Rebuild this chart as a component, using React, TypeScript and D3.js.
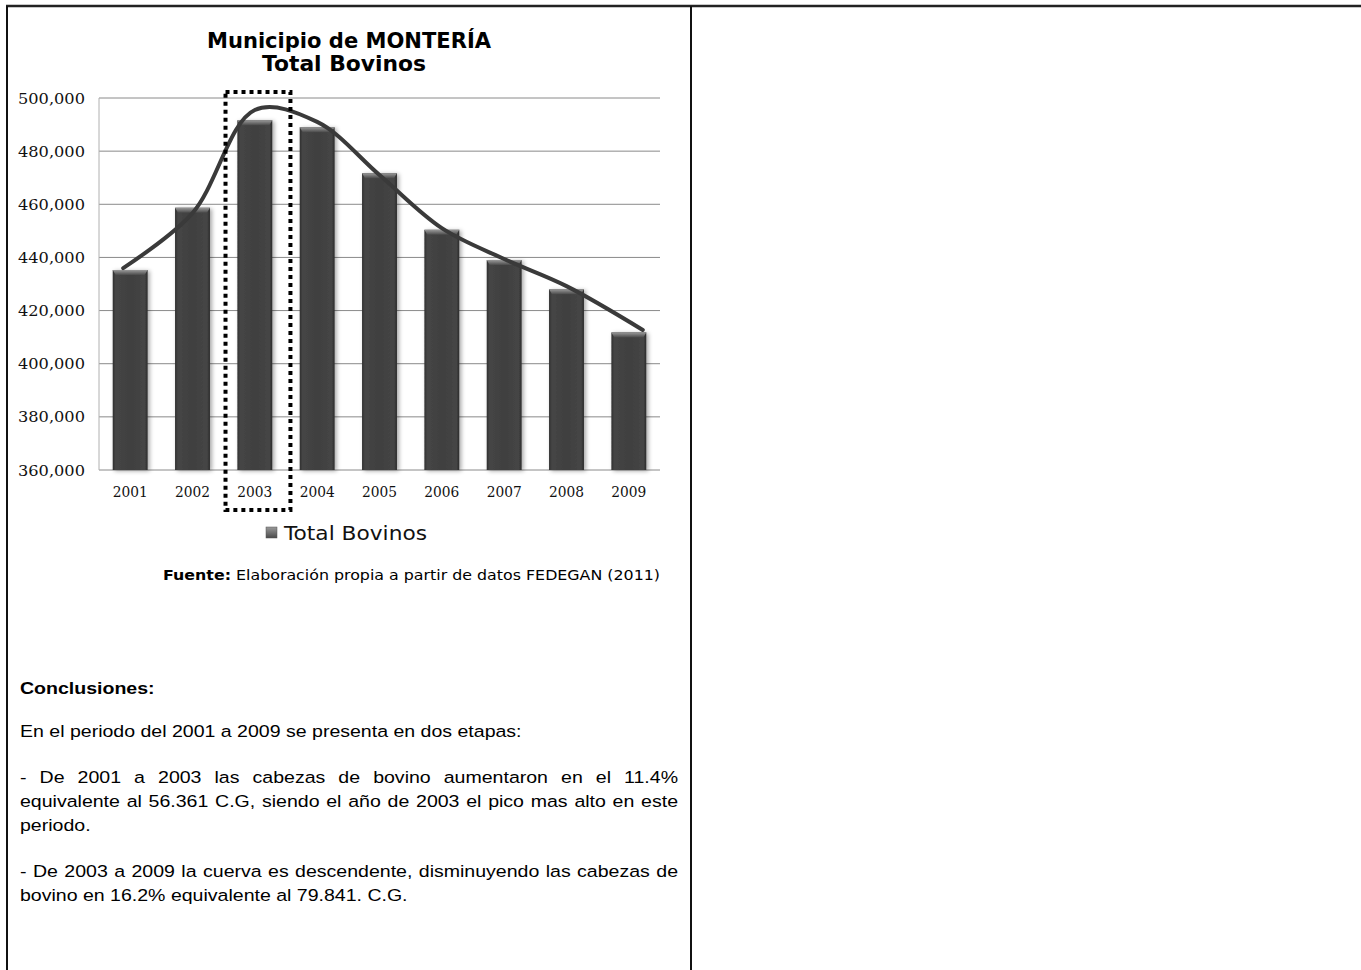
import React, { useEffect, useRef } from "react";
import * as d3 from "d3";

const years = ["2001", "2002", "2003", "2004", "2005", "2006", "2007", "2008", "2009"];
const totalBovinos = [435267, 458700, 491628, 489000, 471700, 450400, 439000, 428000, 411787];
const curveValues = [436000, 456700, 495500, 491000, 471000, 451000, 439400, 429200, 412700];
const yTicks = [360000, 380000, 400000, 420000, 440000, 460000, 480000, 500000];
const titleLines = ["Municipio de MONTERÍA", "Total Bovinos"];
const legendLabel = "Total Bovinos";
const highlightYear = "2003";
const sourceBold = "Fuente:";
const sourceText = " Elaboración propia a partir de datos FEDEGAN (2011)";
const conclusionsTitle = "Conclusiones:";
const paragraphLines = [
  { text: "En el periodo del 2001 a 2009 se presenta en dos etapas:", justify: false },
  { text: "- De 2001 a 2003 las cabezas de bovino aumentaron en el 11.4%", justify: true },
  { text: "equivalente al 56.361 C.G, siendo el año de 2003 el pico mas alto en este", justify: true },
  { text: "periodo.", justify: false },
  { text: "- De 2003 a 2009 la cuerva es descendente, disminuyendo las cabezas de", justify: true },
  { text: "bovino en 16.2% equivalente al 79.841. C.G.", justify: false },
];
const lineYs = [737, 783, 807, 831, 877, 901];

const W = 1361;
const H = 970;
const SX = 1.15;
const TEXT_W = 658;

export default function App() {
  const parRef = useRef<SVGGElement | null>(null);

  const x = d3.scaleBand<string>().domain(years).range([99, 660]).paddingInner(0.44).paddingOuter(0.22);
  const y = d3.scaleLinear().domain([360000, 500000]).range([470, 98]);
  const bw = x.bandwidth();
  const fmt = d3.format(",");

  const pts: [number, number][] = years.map((yr, i) => {
    let px = (x(yr) as number) + bw / 2;
    if (i === 0) px = (x(yr) as number) + bw * 0.3;
    if (i === years.length - 1) px = (x(yr) as number) + bw * 0.9;
    return [px, y(curveValues[i])];
  });
  const lineGen = d3.line().curve(d3.curveCatmullRom.alpha(0.5));

  useEffect(() => {
    if (!parRef.current) return;
    d3.select(parRef.current)
      .selectAll<SVGTextElement, unknown>("text.justify")
      .each(function () {
        const el = this;
        el.setAttribute("word-spacing", "0");
        const natural = el.getComputedTextLength();
        const txt = el.textContent || "";
        const spaces = (txt.match(/ /g) || []).length;
        const target = TEXT_W / SX;
        if (spaces > 0) el.setAttribute("word-spacing", String((target - natural) / spaces));
      });
  }, []);

  const hx0 = (x(highlightYear) as number) - bw * 0.34;
  const hx1 = (x(highlightYear) as number) + bw * 1.52;

  return (
    <svg width={W} height={H} style={{ position: "absolute", left: 0, top: 0, background: "#fff" }}>
      <defs>
        <linearGradient id="barG" x1="0" x2="1" y1="0" y2="0">
          <stop offset="0" stopColor="#2e2e2e" />
          <stop offset="0.08" stopColor="#454545" />
          <stop offset="0.5" stopColor="#404040" />
          <stop offset="0.92" stopColor="#454545" />
          <stop offset="1" stopColor="#2a2a2a" />
        </linearGradient>
        <linearGradient id="topG" x1="0" x2="0" y1="0" y2="1">
          <stop offset="0" stopColor="#9a9a9a" />
          <stop offset="1" stopColor="#4a4a4a" />
        </linearGradient>
        <filter id="shadow" x="-30%" y="-10%" width="160%" height="130%">
          <feDropShadow dx="2" dy="1" stdDeviation="2" floodColor="#000" floodOpacity="0.35" />
        </filter>
      </defs>

      {/* frame */}
      <line x1={6} x2={W} y1={6} y2={6} stroke="#222" strokeWidth={2.5} />
      <line x1={7} x2={7} y1={6} y2={H} stroke="#111" strokeWidth={2} />
      <line x1={691} x2={691} y1={6} y2={H} stroke="#111" strokeWidth={2} />

      {/* title */}
      <g fontFamily="DejaVu Sans, Verdana, sans-serif" fontWeight="bold" fill="#000" textAnchor="middle">
        <text x={349} y={48} fontSize={21.5} textLength={284} lengthAdjust="spacingAndGlyphs">{titleLines[0]}</text>
        <text x={344} y={71} fontSize={21.5} textLength={164} lengthAdjust="spacingAndGlyphs">{titleLines[1]}</text>
      </g>

      {/* gridlines */}
      <g>
        {yTicks.map((t) => (
          <line key={t} x1={99} x2={660} y1={y(t)} y2={y(t)} stroke="#8a8a8a" strokeWidth={1} />
        ))}
        <line x1={99} x2={99} y1={y(500000)} y2={y(360000)} stroke="#b0b0b0" strokeWidth={1} />
      </g>

      {/* y tick labels */}
      <g fontFamily="DejaVu Serif, Liberation Serif, serif" fontSize={15.5} fill="#111" textAnchor="end">
        {yTicks.map((t) => (
          <text key={t} x={85} y={y(t) + 5.5} textLength={67} lengthAdjust="spacingAndGlyphs">{fmt(t)}</text>
        ))}
      </g>

      {/* bars */}
      <g>
        {years.map((yr, i) => {
          const bx = x(yr) as number;
          const by = y(totalBovinos[i]);
          const bh = y(360000) - by;
          return (
            <g key={yr}>
              <rect x={bx} y={by} width={bw} height={bh} fill="url(#barG)" filter="url(#shadow)" />
              <path
                d={`M${bx},${by} L${bx + bw},${by} L${bx + bw - 3},${by + 5} L${bx + 3},${by + 5} Z`}
                fill="url(#topG)"
              />
            </g>
          );
        })}
      </g>

      {/* x labels */}
      <g fontFamily="DejaVu Serif, Liberation Serif, serif" fontSize={15} fill="#111" textAnchor="middle">
        {years.map((yr) => (
          <text key={yr} x={(x(yr) as number) + bw / 2} y={497} textLength={35} lengthAdjust="spacingAndGlyphs">{yr}</text>
        ))}
      </g>

      {/* smooth curve */}
      <path d={lineGen(pts) || ""} fill="none" stroke="#3a3a3a" strokeWidth={4} strokeLinecap="round" />

      {/* highlight dotted box */}
      <rect x={hx0} y={92} width={hx1 - hx0} height={510 - 92} fill="none" stroke="#000" strokeWidth={4} strokeDasharray="4 4" />

      {/* legend */}
      <rect x={266} y={527} width={11} height={11} fill="url(#topG)" stroke="#555" strokeWidth={0.5} />
      <text x={284} y={540} fontFamily="DejaVu Sans, Verdana, sans-serif" fontSize={20} fill="#111" textLength={143} lengthAdjust="spacingAndGlyphs">{legendLabel}</text>

      {/* source */}
      <text x={163} y={580} fontFamily="DejaVu Sans, Verdana, sans-serif" fontSize={14} fill="#000" textLength={497} lengthAdjust="spacingAndGlyphs">
        <tspan fontWeight="bold">{sourceBold}</tspan>
        <tspan>{sourceText}</tspan>
      </text>

      {/* conclusions */}
      <g ref={parRef} transform={`translate(20,0) scale(${SX},1)`} fontFamily="Liberation Sans, Arial, sans-serif" fontSize={17} fill="#000">
        <text x={0} y={694} fontWeight="bold">{conclusionsTitle}</text>
        {paragraphLines.map((l, i) => (
          <text key={i} className={l.justify ? "justify" : ""} x={0} y={lineYs[i]}>{l.text}</text>
        ))}
      </g>
    </svg>
  );
}
